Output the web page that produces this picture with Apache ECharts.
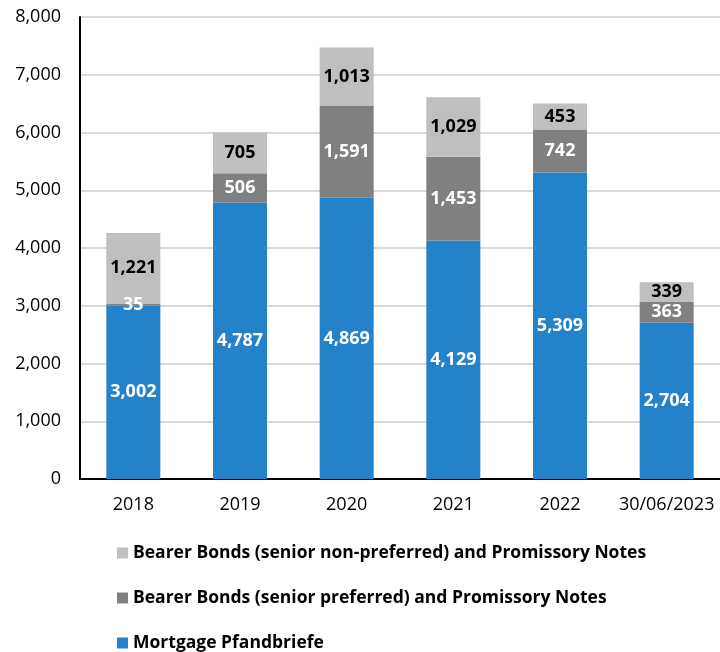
<!DOCTYPE html>
<html><head><meta charset="utf-8">
<script src="https://cdn.jsdelivr.net/npm/echarts@6/dist/echarts.min.js"></script>
<style>html,body{margin:0;padding:0;background:#fff}#c{width:720px;height:652px}</style>
</head><body><div id="c"></div>
<script>
var categories = ['2018','2019','2020','2021','2022','30/06/2023'];
var mortgage = [3002, 4787, 4869, 4129, 5309, 2704];
var seniorPreferred = [35, 506, 1591, 1453, 742, 363];
var seniorNonPreferred = [1221, 705, 1013, 1029, 453, 339];
var yTicks = {min: 0, max: 8000, interval: 1000};
var names = ['Mortgage Pfandbriefe','Bearer Bonds (senior preferred) and Promissory Notes','Bearer Bonds (senior non-preferred) and Promissory Notes'];

var FONT = 'Open Sans';
function fmt(v){ return v.toLocaleString('en-US'); }
function lbl(color){ return {show:true, position:'inside', color:color, fontFamily:FONT, fontWeight:'bold', fontSize:18, formatter:function(p){return fmt(p.value);}}; }

var chart = echarts.init(document.getElementById('c'));
chart.setOption({
  animation:false,
  textStyle:{fontFamily:FONT},
  grid:{left:80, right:-1, top:17, bottom:173, containLabel:false},
  legend:{
    orient:'vertical', left:112, top:538, height:140, itemWidth:11, itemHeight:11, itemGap:25,
    icon:'rect',
    data:[names[2],names[1],names[0]],
    textStyle:{fontFamily:FONT, fontWeight:'bold', fontSize:17.5, color:'#000', lineHeight:20}
  },
  xAxis:{type:'category', data:categories,
    axisLine:{lineStyle:{color:'#000', width:2}}, axisTick:{show:false},
    axisLabel:{interval:0, color:'#000', fontSize:18, fontFamily:FONT, margin:17}},
  yAxis:{type:'value', min:yTicks.min, max:yTicks.max, interval:yTicks.interval,
    axisLine:{show:true, lineStyle:{color:'#000', width:2}}, axisTick:{show:false},
    splitLine:{lineStyle:{color:'#d9d9d9', width:2}},
    axisLabel:{color:'#000', fontSize:18, fontFamily:FONT, margin:19, formatter:function(v){return fmt(v);}}},
  series:[
    {name:names[0], type:'bar', stack:'a', data:mortgage, barWidth:54, itemStyle:{color:'#2382CA'}, label:lbl('#fff')},
    {name:names[1], type:'bar', stack:'a', data:seniorPreferred, barWidth:54, itemStyle:{color:'#808080'}, label:lbl('#fff')},
    {name:names[2], type:'bar', stack:'a', data:seniorNonPreferred, barWidth:54, itemStyle:{color:'#BFBFBF'}, label:lbl('#000')}
  ]
});
</script></body></html>
